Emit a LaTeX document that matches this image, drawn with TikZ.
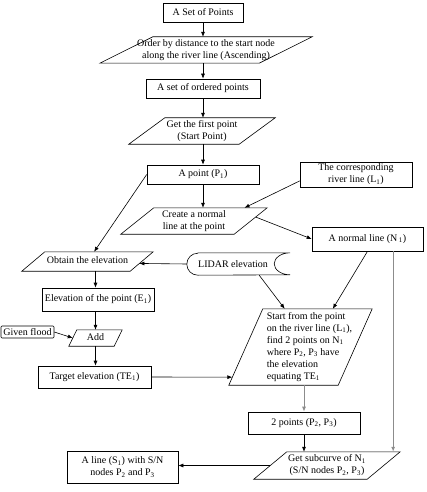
\documentclass[tikz,border=0pt]{standalone}
\usepackage{fontspec}
\setmainfont{Liberation Serif}
\usetikzlibrary{arrows.meta,calc}
\newcommand\ztext[2][c]{\smash{\makebox[0pt]{\raisebox{-2.5pt}{\begin{tabular}[c]{@{}#1@{}}#2\end{tabular}}}}}
\newcommand\sbs[1]{\textsubscript{#1}}
\newcommand\parashape[2]{\draw[pline] ([xshift=-#2]#1.south west) -- ([xshift=-#2]#1.south east) -- ([xshift=#2]#1.north east) -- ([xshift=#2]#1.north west) -- cycle;}
\begin{document}
\begin{tikzpicture}[x=1pt,y=1pt,font=\fontsize{10}{12}\selectfont,
  box/.style={draw,line width=0.6pt,rectangle,inner sep=0pt,align=center},
  para/.style={rectangle,inner sep=0pt},
  pline/.style={line width=0.6pt},
  arr/.style={line width=0.6pt,-{Latex[length=5pt,width=4pt]}},
  garr/.style={arr,draw=black!45,line width=1pt}]
\path[use as bounding box] (0,0) rectangle (427,-492);
% nodes
\node[box,minimum width=80,minimum height=19] (setpts) at (203,-12.5) {A Set of Points};
\node[para,minimum width=159,minimum height=26] (order) at (206,-50)
  {\ztext{Order by distance to the start node\\along the river line (Ascending)}};
\parashape{order}{26.5}
\node[box,minimum width=114,minimum height=19] (ordered) at (203,-88.5) {A set of ordered points};
\node[para,minimum width=110,minimum height=26] (getfirst) at (202,-131)
  {\ztext{Get the first point\\(Start Point)}};
\parashape{getfirst}{18}
\node[box,minimum width=112,minimum height=19] (p1) at (203,-174.5) {A point (P\sbs{1})};
\node[box,minimum width=112,minimum height=25] (l1) at (356,-174.5) {The corresponding\\river line (L\sbs{1})};
\node[para,minimum width=113,minimum height=26] (create) at (194,-221)
  {\ztext{Create a normal\\line at the point}};
\parashape{create}{16.5}
\node[box,minimum width=111,minimum height=24] (n1) at (367.5,-239) {A normal line (N\,\sbs{1})};
\node[para,minimum width=108,minimum height=19] (obtain) at (87.5,-261.5)
  {\ztext{Obtain the elevation}};
\parashape{obtain}{11.5}
\node[rectangle,inner sep=0pt,minimum width=103,minimum height=22] (lidar) at (238.5,-264) {\hspace*{-11pt}LIDAR elevation};
\draw[pline] ([xshift=11]lidar.north west) -- (lidar.north east)
  arc[start angle=90,end angle=270,x radius=16,y radius=11]
  -- ([xshift=11]lidar.south west)
  arc[start angle=270,end angle=90,x radius=11,y radius=11] -- cycle;
\node[box,minimum width=112,minimum height=23] (elev) at (98,-299.5) {Elevation of the point (E\sbs{1})};
\node[box,rounded corners=1pt,minimum width=53,minimum height=12] (given) at (27.5,-332) {Given flood};
\node[para,minimum width=45,minimum height=16] (add) at (95.5,-338) {\ztext{Add}};
\parashape{add}{4}
\node[box,minimum width=113,minimum height=22] (target) at (94.5,-377) {Target elevation (TE\sbs{1})};
\node[para,minimum width=109,minimum height=76] (big) at (300.5,-347)
  {\smash{\makebox[0pt]{\hspace*{18pt}\raisebox{-2.5pt}{\begin{tabular}[c]{@{}l@{}}Start from the point\\on the river line (L\sbs{1}),\\find 2 points on N\sbs{1}\\where P\sbs{2}, P\sbs{3} have\\the elevation\\equating TE\sbs{1}\end{tabular}}}}};
\parashape{big}{17}
\node[box,minimum width=112,minimum height=22] (twopts) at (304,-423) {2 points (P\sbs{2}, P\sbs{3})};
\node[para,minimum width=113,minimum height=27] (subcurve) at (327,-465.5)
  {\ztext{Get subcurve of N\sbs{1}\\(S/N nodes P\sbs{2}, P\sbs{3})}};
\parashape{subcurve}{16.5}
\node[box,minimum width=111,minimum height=32] (aline) at (122.5,-467) {A line (S\sbs{1}) with S/N\\nodes P\sbs{2} and P\sbs{3}};
% connectors
\draw[arr] (setpts.south) -- (setpts.south |- order.north);
\draw[arr] (setpts.south |- order.south) -- (ordered.north);
\draw[arr] (ordered.south) -- (ordered.south |- getfirst.north);
\draw[arr] (ordered.south |- getfirst.south) -- (p1.north);
\draw[arr] (p1.south) -- (p1.south |- create.north);
\draw[arr] ($(l1.south west)!0.5!(l1.west)$) -- ($(create.north west)!0.8!(create.north east)+(16.5,0)$);
\draw[arr] ($([xshift=16.5]create.north east)!0.35!([xshift=-16.5]create.south east)$) -- (n1.west);
\draw[arr] (p1.west) -- (obtain);
\draw[arr] (lidar.west) -- ($([xshift=-11.5]obtain.south east)!0.4!([xshift=11.5]obtain.north east)$);
\draw[arr] (obtain.south -| add.north) -- (elev.north -| add.north);
\draw[arr] (elev.south -| add.north) -- (add.north);
\draw[arr] (given.east) -- (add.west);
\draw[arr] (add.south) -- (add.south |- target.north);
\draw[arr] (target.east) -- ($([xshift=-17]big.south west)!0.105!([xshift=17]big.north west)$);
\draw[arr] ($(lidar.south west)!0.7!(lidar.south east)$) -- ($(big.north west)!0.2!(big.north east)+(17,0)$);
\draw[arr] (n1.south) -- ($(big.north west)!0.64!(big.north east)+(17,0)$);
\coordinate (n1g) at ($(n1.south west)!0.73!(n1.south east)$);
\draw[garr] (n1g) -- (n1g |- subcurve.north);
\draw[garr] (twopts.north |- big.south) -- (twopts.north);
\draw[arr] (twopts.south) -- (twopts.south |- subcurve.north);
\draw[arr] (subcurve.west) -- (subcurve.west -| aline.east);
\end{tikzpicture}
\end{document}
